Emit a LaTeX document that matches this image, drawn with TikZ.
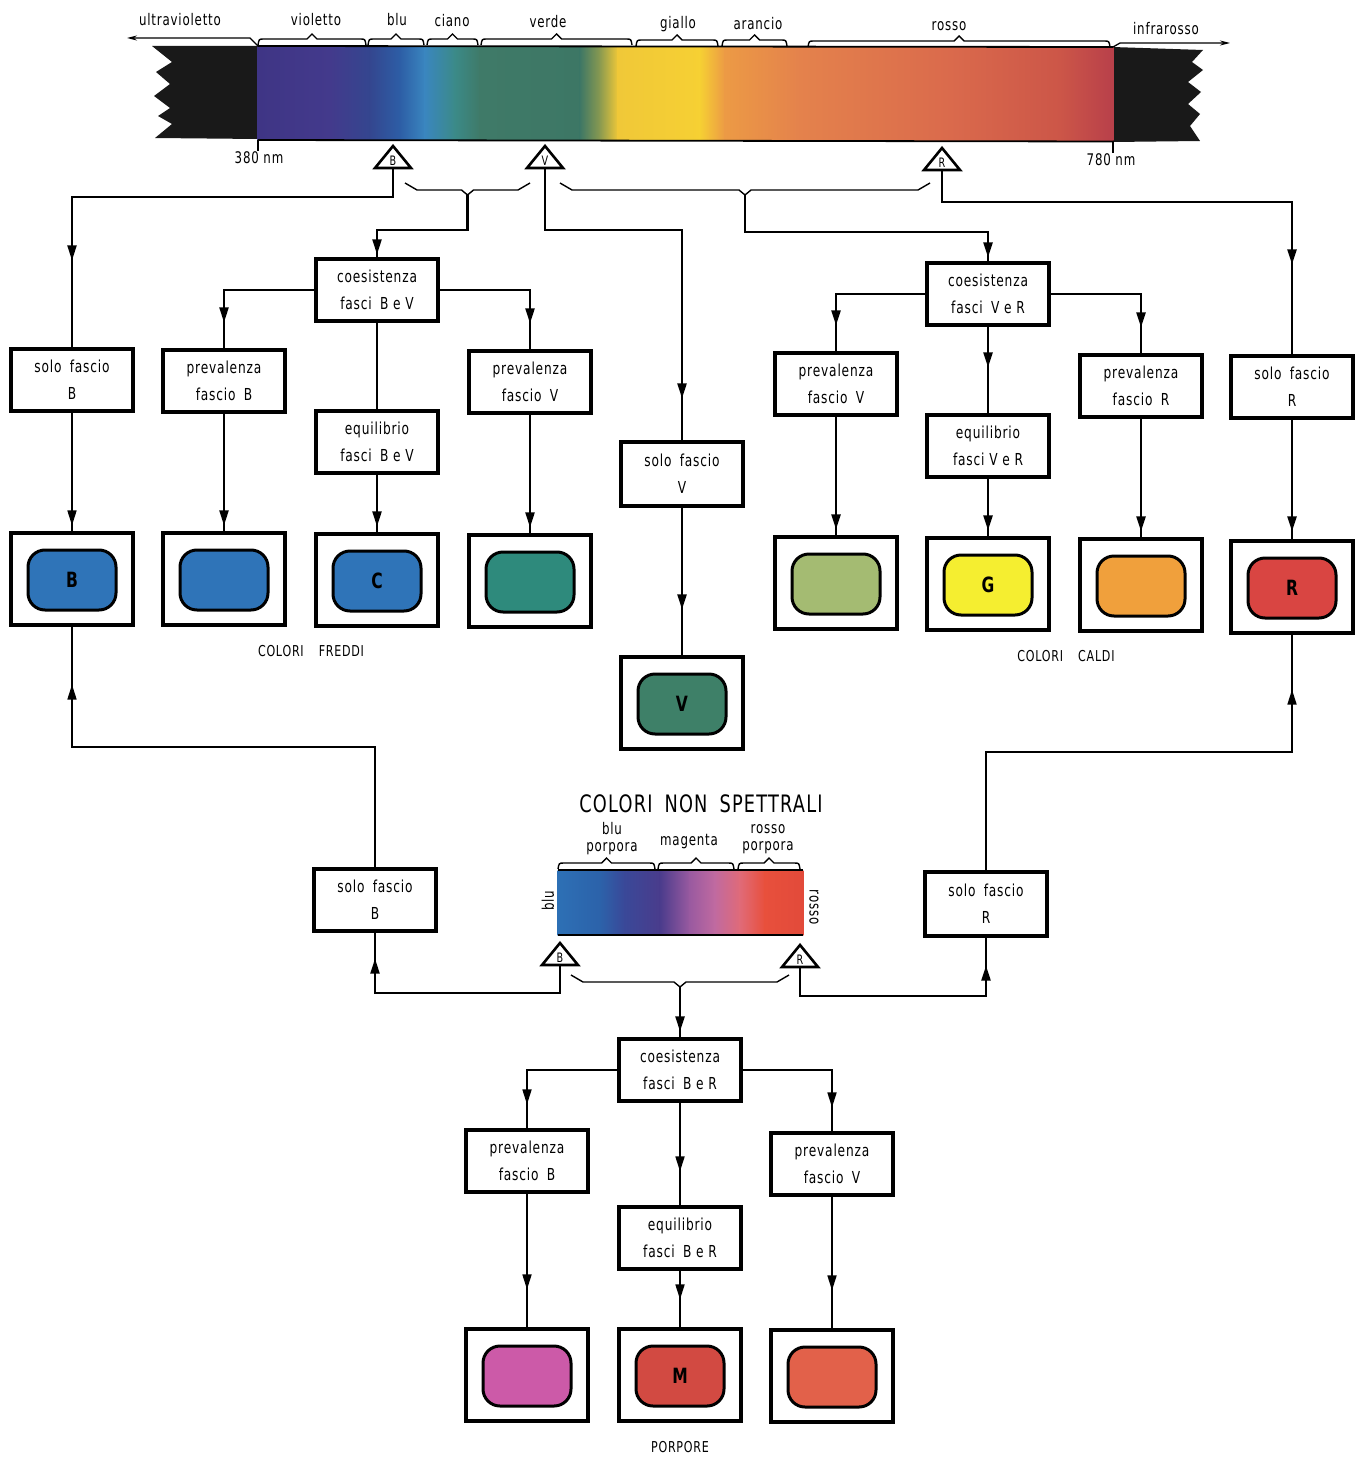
\documentclass[tikz,border=0pt]{standalone}
\usepackage{fontspec}
\setmainfont{DejaVu Sans}[FakeStretch=0.74, LetterSpace=5]
\usetikzlibrary{arrows.meta,decorations.markings,calc}

\definecolor{sA}{HTML}{3F3585}
\definecolor{sB}{HTML}{433A8C}
\definecolor{sC}{HTML}{34468F}
\definecolor{sD}{HTML}{2D5EA6}
\definecolor{sE}{HTML}{3A86BF}
\definecolor{sF}{HTML}{3B8A88}
\definecolor{sG}{HTML}{3F7A68}
\definecolor{sH}{HTML}{3D7765}
\definecolor{sI}{HTML}{8A9A50}
\definecolor{sJ}{HTML}{F0C838}
\definecolor{sK}{HTML}{F6D033}
\definecolor{sL}{HTML}{EC9A45}
\definecolor{sM}{HTML}{E4824C}
\definecolor{sN}{HTML}{DA6A4C}
\definecolor{sO}{HTML}{CC5648}
\definecolor{sP}{HTML}{B8404A}
\definecolor{nA}{HTML}{2D70B5}
\definecolor{nB}{HTML}{2C62AA}
\definecolor{nC}{HTML}{3A4898}
\definecolor{nD}{HTML}{4A3C8C}
\definecolor{nE}{HTML}{9A5AA0}
\definecolor{nF}{HTML}{C06AA0}
\definecolor{nG}{HTML}{E06A78}
\definecolor{nH}{HTML}{E8503C}
\definecolor{nI}{HTML}{E24A3A}
\definecolor{scBlue}{HTML}{2F74B8}
\definecolor{scTeal}{HTML}{2E8A7C}
\definecolor{scGreen}{HTML}{3E8068}
\definecolor{scOlive}{HTML}{A4BB72}
\definecolor{scYellow}{HTML}{F5EE30}
\definecolor{scOrange}{HTML}{F0A03C}
\definecolor{scRed}{HTML}{D94542}
\definecolor{scPink}{HTML}{CC5AA8}
\definecolor{scMag}{HTML}{D24A42}
\definecolor{scRedOr}{HTML}{E2614A}

\newcommand\boxfont{\fontsize{16.5}{27}\selectfont}
\newcommand\lblfont{\fontsize{16}{18}\selectfont}
\newcommand\capfont{\fontsize{15}{16}\selectfont}

\tikzset{
  box/.style={draw, line width=3.2pt, fill=white, minimum width=122pt, minimum height=62pt,
    align=center, inner sep=0pt, font=\boxfont},
  tv/.style={draw, line width=3.2pt, fill=white, minimum width=122pt, minimum height=92pt, inner sep=0pt},
  screen/.style={draw, line width=3pt, rounded corners=17pt, minimum width=88pt, minimum height=60pt,
    inner sep=0pt, font=\bfseries\fontsize{21}{21}\selectfont},
  conn/.style={line width=2.3pt},
  thinconn/.style={line width=1.7pt},
  brace/.style={line width=1.4pt},
  lbl/.style={inner sep=0pt, font=\lblfont},
  arr/.style={postaction={decorate}, decoration={markings,
    mark=at position #1 with {\arrow{Triangle[length=15pt,width=9pt]}}}},
}

\newcommand\specTri[4]{%
  \draw[line width=2.6pt, fill=white, line join=miter] (#2-18,#3+10) -- (#2,#3-12) -- (#2+18,#3+10) -- cycle;
  \node[inner sep=0pt, font=\fontsize{13}{13}\selectfont] (#1) at (#2,#3+3.2) {#4};
  \coordinate (#1b) at (#2,#3+10);}
\newcommand\topbrace[3]{%
  \draw[brace] (#1,#3) .. controls (#1+1,#3-6) .. (#1+6,#3-6) -- ({(#1+#2)/2-5},#3-6)
    -- ({(#1+#2)/2},#3-11) -- ({(#1+#2)/2+5},#3-6) -- (#2-6,#3-6) .. controls (#2-1,#3-6) .. (#2,#3);}
\newcommand\botbrace[4]{%
  \draw[brace] (#2,#4) -- (#2+12,#4+7) -- ({(#2+#3)/2-6},#4+7) -- ({(#2+#3)/2},#4+12)
    -- ({(#2+#3)/2+6},#4+7) -- (#3-12,#4+7) -- (#3,#4);
  \coordinate (#1) at ({(#2+#3)/2},#4+12);}
\newcommand\tvset[5]{%
  \node[tv] (#1) at (#2,#3) {};
  \node[screen, fill=#4] (#1s) at (#2,#3+1) {#5};}

\begin{document}
\begin{tikzpicture}[x=1pt,y=-1pt]
\useasboundingbox (0,0) rectangle (1363,1458);
\fill[white] (0,0) rectangle (1363,1458);

% ---------- top spectrum ----------
\fill[black!90] (258.5,46) -- (152,46) -- (172,62) -- (156,72) -- (170,84) -- (154,96) -- (170,108)
  -- (158,116) -- (172,124) -- (155,138) -- (258.5,139) -- cycle;
\fill[black!90] (1112.5,47) -- (1203,50) -- (1192,62) -- (1203,70) -- (1188,82) -- (1201,92)
  -- (1188,104) -- (1200,114) -- (1190,126) -- (1200,141) -- (1112.5,142) -- cycle;
\foreach \xa/\ca/\xb/\cb in {258/sA/330/sB, 330/sB/370/sC, 370/sC/400/sD, 400/sD/425/sE,
  425/sE/455/sF, 455/sF/480/sG, 480/sG/580/sH, 580/sH/600/sI, 600/sI/618/sJ, 618/sJ/700/sK,
  700/sK/725/sL, 725/sL/800/sM, 800/sM/950/sN, 950/sN/1060/sO, 1060/sO/1113/sP}
  \fill[left color=\ca, right color=\cb] (\xa-0.3,46.5) rectangle (\xb+0.3,140.5);
\draw[line width=1.8pt] (258,46) -- (1113,47);
\draw[line width=1.8pt] (258,140) -- (1113,141.5);
\draw[line width=1.5pt] (258,140) -- (258,151);
\draw[line width=1.5pt] (1113,141.5) -- (1113,153);
\node[lbl] (nm380) at (259,158) {380 nm};
\node[lbl] (nm780) at (1111,160) {780 nm};

% arrows ultraviolet / infrared
\coordinate (uvEnd) at (127,38);
\coordinate (irEnd) at (1230,43);
\draw[line width=1.3pt, -{Stealth[length=10pt,width=5pt]}] (258,46) -- (250,38) -- (uvEnd);
\draw[line width=1.3pt, -{Stealth[length=10pt,width=5pt]}] (1113,47) -- (1120,43) -- (irEnd);

% braces above bar
\topbrace{258}{366}{45}
\topbrace{368}{424}{45}
\topbrace{427}{478}{45}
\topbrace{481}{632}{45}
\topbrace{636}{718}{46}
\topbrace{722}{787}{46}
\topbrace{808}{1110}{47}

\node[lbl] (lUV) at (180,20) {ultravioletto};
\node[lbl] (lVio) at (316,20) {violetto};
\node[lbl] (lBlu) at (397,20) {blu};
\node[lbl] (lCia) at (452,21) {ciano};
\node[lbl] (lVer) at (548,22) {verde};
\node[lbl] (lGia) at (678,24) {giallo};
\node[lbl] (lAra) at (758,24) {arancio};
\node[lbl] (lRos) at (949,26) {rosso};
\node[lbl] (lIR) at (1166,29) {infrarosso};

% triangles
\specTri{tB}{393}{158}{B}
\specTri{tV}{545}{158}{V}
\specTri{tR}{942}{160}{R}

\botbrace{bBV}{405}{530}{183}
\botbrace{bVR}{560}{930}{183}

% ---------- boxes upper ----------
\node[box] (sfB) at (72,380) {solo\enspace fascio\\B};
\node[box] (pfB) at (224,381) {prevalenza\\fascio\enspace B};
\node[box] (coBV) at (377,290) {coesistenza\\fasci\enspace B e V};
\node[box] (eqBV) at (377,442) {equilibrio\\fasci\enspace B e V};
\node[box] (pfV1) at (530,382) {prevalenza\\fascio\enspace V};
\node[box, minimum height=64pt] (sfV) at (682,474) {solo\enspace fascio\\V};
\node[box] (pfV2) at (836,384) {prevalenza\\fascio\enspace V};
\node[box] (coVR) at (988,294) {coesistenza\\fasci\enspace V e R};
\node[box] (eqVR) at (988,446) {equilibrio\\fasci V e R};
\node[box] (pfR) at (1141,386) {prevalenza\\fascio\enspace R};
\node[box] (sfR) at (1292,387) {solo\enspace fascio\\R};

% TVs
\tvset{tvB}{72}{579}{scBlue}{B}
\tvset{tvB2}{224}{579}{scBlue}{}
\tvset{tvC}{377}{580}{scBlue}{C}
\tvset{tvT}{530}{581}{scTeal}{}
\tvset{tvV}{682}{703}{scGreen}{V}
\tvset{tvO}{836}{583}{scOlive}{}
\tvset{tvG}{988}{584}{scYellow}{G}
\tvset{tvOr}{1141}{585}{scOrange}{}
\tvset{tvR}{1292}{587}{scRed}{R}

\node[inner sep=0pt, font=\capfont] (cf) at (311,651) {COLORI\quad FREDDI};
\node[inner sep=0pt, font=\capfont] (cc) at (1066,656) {COLORI\quad CALDI};

% ---------- connectors upper ----------
\draw[conn, arr=-87pt] (tBb) |- (72,197) -- (sfB.north);
\draw[conn, arr=-3pt] (bBV) |- (377,230) -- (coBV.north);
\draw[conn, arr=-42pt] (tVb) |- (682,230) -- (sfV.north);
\draw[conn, arr=-4pt] (bVR) |- (988,232) -- (coVR.north);
\draw[conn, arr=-90pt] (tRb) |- (1292,202) -- (sfR.north);

\draw[conn, arr=-26pt] (coBV.west) -| (pfB.north);
\draw[conn, arr=-26pt] (coBV.east) -| (pfV1.north);
\draw[thinconn] (coBV.south) -- (eqBV.north);
\draw[conn, arr=-26pt] (coVR.west) -| (pfV2.north);
\draw[conn, arr=-26pt] (coVR.east) -| (pfR.north);
\draw[conn, arr=-46pt] (coVR.south) -- (eqVR.north);

\draw[thinconn, arr=-6pt] (sfB.south) -- (tvB.north);
\draw[conn, arr=-6pt] (pfB.south) -- (tvB2.north);
\draw[conn, arr=-6pt] (eqBV.south) -- (tvC.north);
\draw[conn, arr=-6pt] (pfV1.south) -- (tvT.north);
\draw[conn, arr=-46pt] (sfV.south) -- (tvV.north);
\draw[conn, arr=-6pt] (pfV2.south) -- (tvO.north);
\draw[conn, arr=-6pt] (eqVR.south) -- (tvG.north);
\draw[conn, arr=-6pt] (pfR.south) -- (tvOr.north);
\draw[conn, arr=-8pt] (sfR.south) -- (tvR.north);

% ---------- non spectral ----------
\node[inner sep=0pt, font=\fontsize{24}{24}\selectfont] (cns) at (701,804) {COLORI\enspace NON\enspace SPETTRALI};
\foreach \xa/\ca/\xb/\cb in {558/nA/600/nB, 600/nB/625/nC, 625/nC/660/nD, 660/nD/690/nE,
  690/nE/715/nF, 715/nF/740/nG, 740/nG/765/nH, 765/nH/803/nI}
  \fill[left color=\ca, right color=\cb] (\xa-0.3,870) rectangle (\xb+0.3,935);
\draw[line width=1.8pt] (558,870) -- (803,870);
\draw[line width=1.5pt] (558,935) -- (803,935);
\topbrace{558}{655}{869}
\topbrace{658}{734}{869}
\topbrace{738}{800}{869}
\node[lbl, align=center, font=\fontsize{16}{17}\selectfont] (lbp) at (612,839) {blu\\porpora};
\node[lbl] (lmag) at (689,842) {magenta};
\node[lbl, align=center, font=\fontsize{16}{17}\selectfont] (lrp) at (768,839) {rosso\\porpora};
\node[lbl, rotate=90] (lblu) at (548,901) {blu};
\node[lbl, rotate=-90] (lros) at (814,907) {rosso};

\specTri{tB2}{560}{955}{B}
\specTri{tR2}{800}{957}{R}
\botbrace{bBR}{571}{789}{975}

\node[box] (sfB2) at (375,900) {solo\enspace fascio\\B};
\node[box, minimum height=64pt] (sfR2) at (986,904) {solo\enspace fascio\\R};

\draw[conn, arr=-26pt] (tB2b) |- (375,993) -- (sfB2.south);
\draw[conn, arr=-28pt] (tR2b) |- (986,996) -- (sfR2.south);
\draw[thinconn, arr=-58pt] (sfB2.north) |- (72,747) -- (tvB.south);
\draw[thinconn, arr=-55pt] (sfR2.north) |- (1292,752) -- (tvR.south);

% ---------- lower tree ----------
\node[box] (coBR) at (680,1070) {coesistenza\\fasci\enspace B e R};
\node[box] (pfB3) at (527,1161) {prevalenza\\fascio\enspace B};
\node[box] (eqBR) at (680,1238) {equilibrio\\fasci\enspace B e R};
\node[box] (pfV3) at (832,1164) {prevalenza\\fascio\enspace V};

\draw[conn, arr=-6pt] (bBR) -- (coBR.north);
\draw[thinconn, arr=-24pt] (coBR.west) -| (pfB3.north);
\draw[thinconn, arr=-24pt] (coBR.east) -| (pfV3.north);
\draw[thinconn, arr=-34pt] (coBR.south) -- (eqBR.north);

\tvset{tvP}{527}{1375}{scPink}{}
\tvset{tvM}{680}{1375}{scMag}{M}
\tvset{tvRo}{832}{1376}{scRedOr}{}

\draw[thinconn, arr=-38pt] (pfB3.south) -- (tvP.north);
\draw[thinconn, arr=-28pt] (eqBR.south) -- (tvM.north);
\draw[thinconn, arr=-38pt] (pfV3.south) -- (tvRo.north);

\node[inner sep=0pt, font=\capfont] (porp) at (680,1447) {PORPORE};
\end{tikzpicture}
\end{document}
